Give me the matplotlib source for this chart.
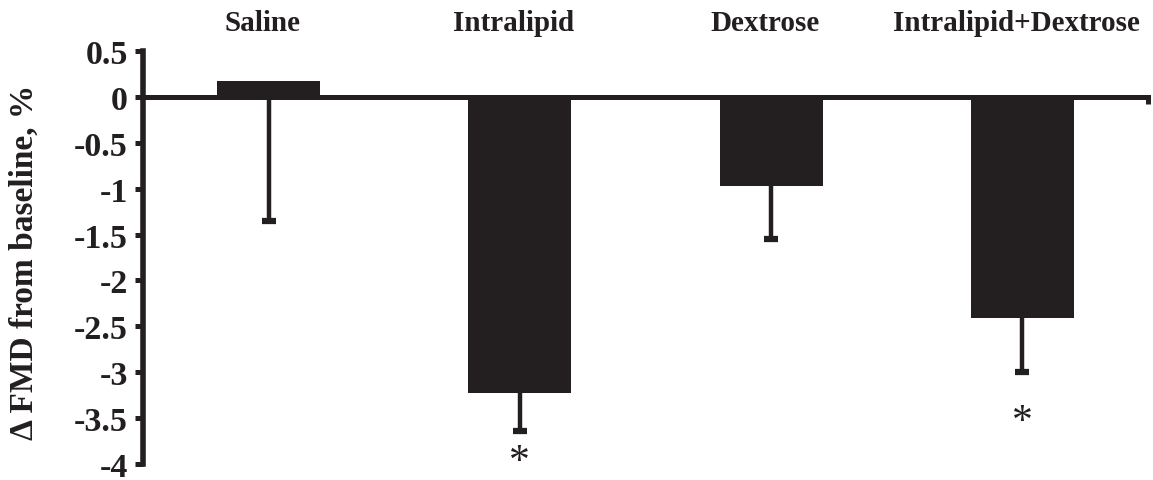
import matplotlib
matplotlib.use("Agg")
import matplotlib.pyplot as plt
import matplotlib.transforms as mtransforms

# Change in flow-mediated dilation by infusion
groups = ["Saline", "Intralipid", "Dextrose", "Intralipid+Dextrose"]
means = [0.17, -3.23, -0.97, -2.41]
err_low = [1.52, 0.41, 0.58, 0.59]
star_groups = [1, 3]
star_y = [-3.87, -3.43]

plt.rcParams["font.family"] = ["Liberation Serif", "DejaVu Serif"]
plt.rcParams["font.weight"] = "bold"

ink = "#231f20"
fig = plt.figure(figsize=(11.53, 4.81), dpi=100)
ax = fig.add_axes([0.124, 0.0333, 0.8717, 0.8587])

x = list(range(len(groups)))
ends = [m - e for m, e in zip(means, err_low)]
ax.bar(x, means, width=0.41, color=ink, zorder=2)
# one-sided error bars (downwards only)
ax.vlines(x, means, ends, colors=ink, linewidth=3.2, zorder=3)
ax.plot(x, ends, ls="none", marker="_", markersize=10, markeredgewidth=4.5,
        color=ink, zorder=3)

# significance asterisks, centred on the glyph itself
for g, yy in zip(star_groups, star_y):
    ax.annotate("*", xy=(g, yy), xytext=(0, -7), textcoords="offset points",
                ha="center", va="center", fontsize=30, fontweight="normal",
                color=ink)

trans = mtransforms.blended_transform_factory(ax.transData, ax.transAxes)
for i, name in enumerate(groups):
    ax.text(i - 0.025, 1.068, name, ha="center", va="center", fontsize=21,
            fontweight="bold", transform=trans, color=ink)

ax.set_xlim(-0.5, 3.5)
ax.set_ylim(-4, 0.5)
ax.set_yticks([0.5, 0, -0.5, -1, -1.5, -2, -2.5, -3, -3.5, -4])
ax.set_yticklabels(["0.5", "0", "-0.5", "-1", "-1.5", "-2", "-2.5", "-3", "-3.5", "-4"])
ax.set_xticks([3.5])
ax.set_xticklabels([""])

for s in ["top", "right"]:
    ax.spines[s].set_visible(False)
ax.spines["left"].set_linewidth(4)
ax.spines["bottom"].set_linewidth(3.6)
ax.spines["bottom"].set_position(("data", 0))
ax.spines["left"].set_color(ink)
ax.spines["bottom"].set_color(ink)
ax.spines["bottom"].set_zorder(1)

ax.tick_params(axis="y", direction="out", length=6, width=3.6,
               labelsize=24.5, pad=5, color=ink, labelcolor=ink)
ax.tick_params(axis="x", direction="out", length=5, width=3.6, color=ink)
for lab in ax.get_yticklabels():
    lab.set_fontweight("bold")

ax.set_ylabel("\u0394 FMD from baseline, %", fontsize=24, fontweight="bold",
              color=ink)
ax.yaxis.set_label_coords(-0.103, 0.49)

fig.savefig("out.png", dpi=100)
